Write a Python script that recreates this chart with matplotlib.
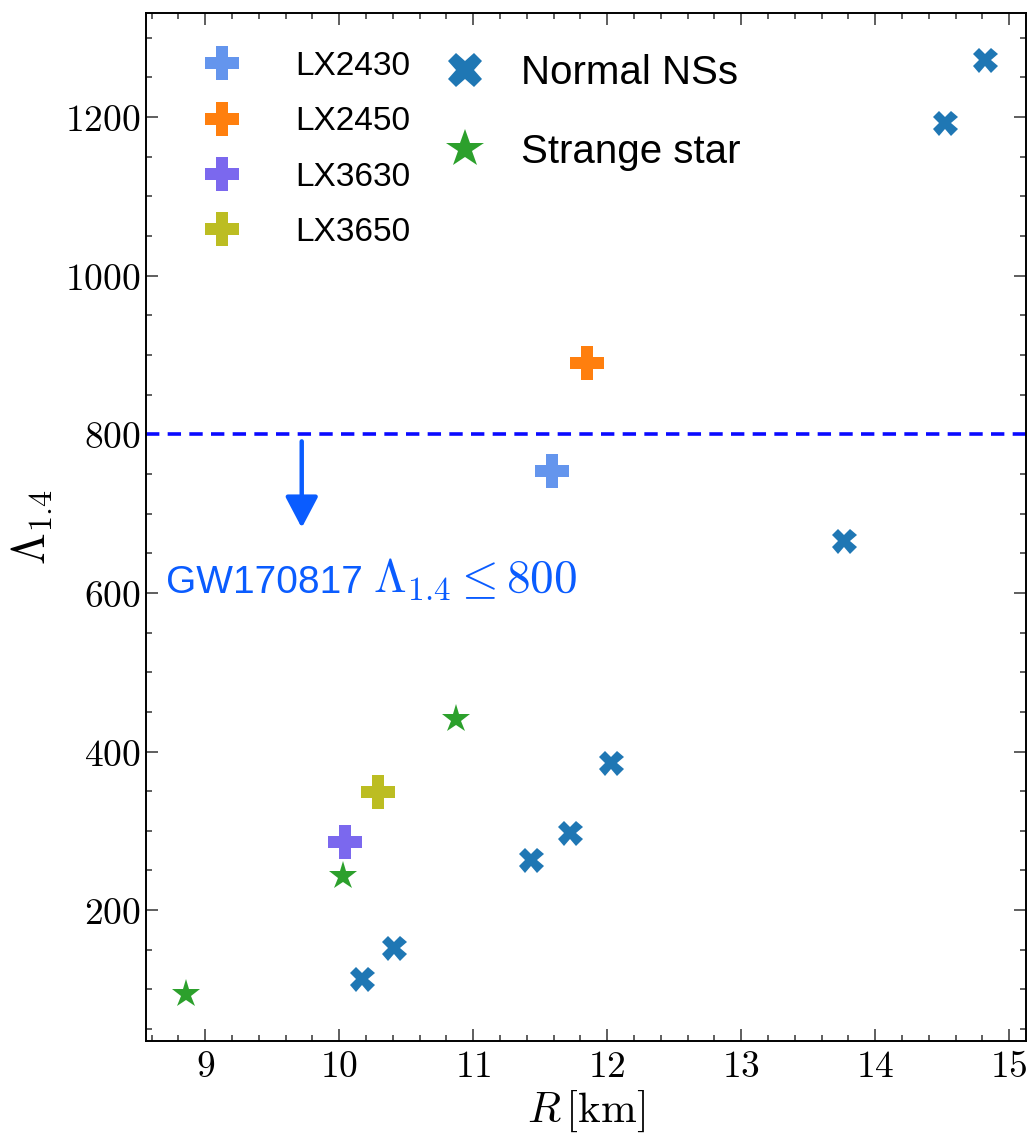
import matplotlib
matplotlib.use("Agg")
import matplotlib.pyplot as plt
from matplotlib.lines import Line2D
from matplotlib.ticker import MultipleLocator, FuncFormatter

plt.rcParams["mathtext.fontset"] = "cm"
plt.rcParams["font.family"] = ["Liberation Sans", "DejaVu Sans"]

# ---- data -----------------------------------------------------------
normal_r = [14.82, 14.52, 13.77, 12.03, 11.72, 11.43, 10.41, 10.17]
normal_lam = [1272, 1192, 665, 385, 297, 263, 152, 113]

strange_r = [10.87, 10.03, 8.86]
strange_lam = [441, 243, 94]

lx_names = ["LX2430", "LX2450", "LX3630", "LX3650"]
lx_r = [11.59, 11.85, 10.04, 10.29]
lx_lam = [754, 890, 286, 349]
lx_colors = ["#6495ed", "#ff7f0e", "#7b68ee", "#bcbd22"]

GW_LIMIT = 800
ARROW_X = 9.72
ARROW_FROM, ARROW_TO = 791, 682

# ---- figure ---------------------------------------------------------
fig = plt.figure(figsize=(10.29, 11.40), dpi=100)
ax = fig.add_axes([0.1419, 0.0868, 0.8552, 0.9018])

for name, r, lam, c in zip(lx_names, lx_r, lx_lam, lx_colors):
    ax.plot(r, lam, linestyle="none", marker="P", markersize=25,
            color=c, markeredgewidth=0)
ax.plot(normal_r, normal_lam, linestyle="none", marker="X", markersize=18,
        color="#1f77b4", markeredgewidth=0)
ax.plot(strange_r, strange_lam, linestyle="none", marker="*", markersize=21,
        color="#2ca02c", markeredgewidth=0)

ax.axhline(GW_LIMIT, color="#0a0aff", linewidth=2.6, dashes=(3.7, 2.3))
ax.annotate("", xy=(ARROW_X, ARROW_TO), xytext=(ARROW_X, ARROW_FROM),
            arrowprops=dict(arrowstyle="-|>,head_length=0.95,head_width=0.5",
                            mutation_scale=20, color="#0a5cff", lw=3.2,
                            shrinkA=0, shrinkB=0))
ax.text(8.707, 600, "GW170817", color="#0a5cff",
        fontsize=28, va="baseline", ha="left")
ax.text(10.25, 600, r"$\Lambda_{1.4} \leq 800$", color="#0a5cff",
        fontsize=34, va="baseline", ha="left")

ax.set_xlim(8.558, 15.125)
ax.set_ylim(35, 1331)
ax.xaxis.set_major_locator(MultipleLocator(1))
ax.xaxis.set_minor_locator(MultipleLocator(0.2))
ax.yaxis.set_major_locator(MultipleLocator(200))
ax.yaxis.set_minor_locator(MultipleLocator(50))
fmt = FuncFormatter(lambda v, pos: f"${v:g}$")
ax.xaxis.set_major_formatter(fmt)
ax.yaxis.set_major_formatter(fmt)
ax.tick_params(which="both", direction="in", top=True, right=True,
               labelsize=27, color="#333333", width=1.1)
ax.tick_params(which="major", length=8.6)
ax.tick_params(which="minor", length=4.3)
ax.tick_params(axis="x", which="major", pad=6)
ax.tick_params(axis="y", which="major", pad=4)
for s in ax.spines.values():
    s.set_linewidth(1.4)

ax.set_xlabel(r"$R\,[\mathrm{km}]$", fontsize=31, labelpad=2)
ax.set_ylabel(r"$\Lambda_{1.4}$", fontsize=33, labelpad=7)

# ---- legends ----------------------------------------------------------
lx_handles = [Line2D([], [], linestyle="none", marker="P", markersize=24,
                     color=c, markeredgewidth=0) for c in lx_colors]
leg1 = ax.legend(lx_handles, lx_names, loc="upper left",
                 bbox_to_anchor=(0.0676, 0.963), frameon=False,
                 fontsize=24,
                 handlelength=1.0, handletextpad=1.7, labelspacing=0.73,
                 borderpad=0, borderaxespad=0)
ax.add_artist(leg1)

kind_handles = [
    Line2D([], [], linestyle="none", marker="X", markersize=25,
           color="#1f77b4", markeredgewidth=0),
    Line2D([], [], linestyle="none", marker="*", markersize=29,
           color="#2ca02c", markeredgewidth=0),
]
ax.legend(kind_handles, ["Normal NSs", "Strange star"], loc="upper left",
          bbox_to_anchor=(0.340, 0.9605), frameon=False, fontsize=29,
          handlelength=1.0, handletextpad=0.87, labelspacing=1.02,
          borderpad=0, borderaxespad=0)

fig.savefig("out.png", dpi=100)
